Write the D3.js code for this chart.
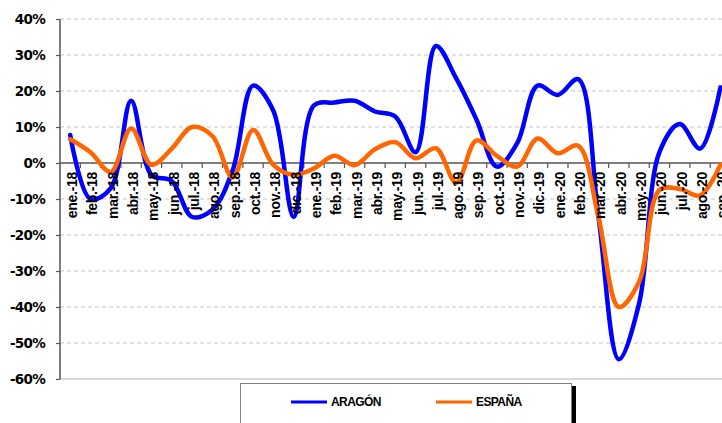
<!DOCTYPE html>
<html>
<head>
<meta charset="utf-8">
<script src="https://cdn.jsdelivr.net/npm/d3@7"></script>
<style>
  html, body { margin: 0; padding: 0; background: #fff; }
  svg { display: block; }
</style>
</head>
<body>
<svg id="chart" width="722" height="423"></svg>
<script>
const categories = ["ene.-18","feb.-18","mar.-18","abr.-18","may.-18","jun.-18","jul.-18","ago.-18","sep.-18","oct.-18","nov.-18","dic.-18",
  "ene.-19","feb.-19","mar.-19","abr.-19","may.-19","jun.-19","jul.-19","ago.-19","sep.-19","oct.-19","nov.-19","dic.-19",
  "ene.-20","feb.-20","mar.-20","abr.-20","may.-20","jun.-20","jul.-20","ago.-20","sep.-20"];
const aragon = [7.8, -10, -7, 17.3, -3.3, -5, -15, -13, -2, 21.5, 14.5, -15,
  16, 16.8, 17.3, 14.3, 12.9, 3, 32.5, 23.5, 12, -1, 5.5, 21.5,
  18.9, 23.3, -15, -54.5, -39, 3, 10.8, 4, 21];
const espana = [6.6, 3, -2.5, 9.6, -0.5, 4, 10, 7.5, -4, 9.2, -0.5, -3.3,
  -1.5, 2, -0.6, 3.8, 5.8, 1.3, 4.1, -5.5, 6.3, 2, -1, 6.8,
  2.7, 4.8, -15, -40, -33, -7.5, -7.2, -9, -0.5];
const yTicks = [40, 30, 20, 10, 0, -10, -20, -30, -40, -50, -60];
const seriesNames = ["ARAGÓN", "ESPAÑA"];
const colors = ["#0000ff", "#ff6600"];

const svg = d3.select("#chart");
const left = 60, bw = 20.32;
const x = d3.scaleBand().domain(categories).range([left, left + bw * categories.length]).padding(0);
const y = d3.scaleLinear().domain([-60, 40]).range([379, 19]);
const W = 722;

// gridlines
svg.append("g").selectAll("line").data(yTicks.filter(t => t !== 0 && t !== -60)).join("line")
  .attr("x1", left).attr("x2", W)
  .attr("y1", d => y(d)).attr("y2", d => y(d))
  .attr("stroke", "#c4c4c4").attr("stroke-width", 1).attr("stroke-dasharray", "4,3");
svg.append("line").attr("x1", left).attr("x2", W).attr("y1", y(-60)).attr("y2", y(-60))
  .attr("stroke", "#b0b0b0").attr("stroke-width", 1.2);

// y axis
const yAxis = d3.axisLeft(y).tickValues(yTicks).tickSize(4).tickFormat(d => d + "%");
const gy = svg.append("g").attr("transform", `translate(${left},0)`).call(yAxis);
gy.select(".domain").attr("stroke", "#555").attr("stroke-width", 1.5).attr("d", `M0,${y(40)}V${y(-60)}`);
gy.selectAll(".tick line").attr("stroke", "#555").attr("stroke-width", 1.2);
gy.selectAll(".tick text").attr("x", -15)
  .attr("font-family", "DejaVu Sans, sans-serif").attr("font-weight", "bold")
  .attr("font-size", 13.5).attr("letter-spacing", -0.7).attr("fill", "#000");

// zero axis with ticks at band boundaries
svg.append("line").attr("x1", left).attr("x2", W).attr("y1", y(0)).attr("y2", y(0))
  .attr("stroke", "#555").attr("stroke-width", 1.5);
svg.append("g").selectAll("line").data(categories).join("line")
  .attr("x1", d => x(d) + bw).attr("x2", d => x(d) + bw)
  .attr("y1", y(0)).attr("y2", y(0) + 5)
  .attr("stroke", "#555").attr("stroke-width", 1.2);

// lines
const line = vals => d3.line()
  .x((d, i) => x(categories[i]) + bw / 2)
  .y(d => y(d))
  .curve(d3.curveCatmullRom.alpha(0.5))(vals);
[aragon, espana].forEach((vals, k) => {
  svg.append("path").attr("d", line(vals)).attr("fill", "none")
    .attr("stroke", colors[k]).attr("stroke-width", 4.5)
    .attr("stroke-linejoin", "round").attr("stroke-linecap", "round");
});

// x labels
svg.append("g").selectAll("text").data(categories).join("text")
  .attr("transform", d => `translate(${x(d) + bw / 2 + 2},${y(0) + 9}) rotate(-90)`)
  .attr("text-anchor", "end").attr("dy", "0.35em")
  .attr("font-family", "Liberation Sans, Arial, sans-serif").attr("font-weight", "bold")
  .attr("font-size", 14).attr("letter-spacing", -0.3).attr("fill", "#000")
  .text(d => d);

// legend
const lg = svg.append("g");
lg.append("rect").attr("x", 572).attr("y", 386).attr("width", 4).attr("height", 40).attr("fill", "#000");
lg.append("rect").attr("x", 240.5).attr("y", 383.5).attr("width", 331).attr("height", 50)
  .attr("fill", "#fff").attr("stroke", "#7f7f7f").attr("stroke-width", 1);
const lx = [291, 436];
seriesNames.forEach((n, k) => {
  lg.append("line").attr("x1", lx[k]).attr("x2", lx[k] + 36).attr("y1", 402).attr("y2", 402)
    .attr("stroke", colors[k]).attr("stroke-width", 3);
  lg.append("text").attr("x", lx[k] + 40).attr("y", 402).attr("dy", "0.35em")
    .attr("font-family", "Liberation Sans, Arial, sans-serif").attr("font-weight", "bold")
    .attr("font-size", 12).attr("letter-spacing", -0.6).attr("fill", "#000").text(n);
});
</script>
</body>
</html>
